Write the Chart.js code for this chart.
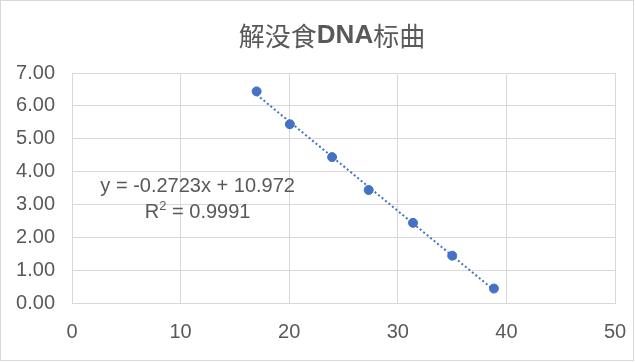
<!DOCTYPE html>
<html>
<head>
<meta charset="utf-8">
<script src="https://cdn.jsdelivr.net/npm/chart.js@4/dist/chart.umd.min.js"></script>
<style>
  html, body { margin: 0; padding: 0; background: #fff; }
  canvas { display: block; }
</style>
</head>
<body>
<canvas id="chart" width="635" height="362"></canvas>
<script>
const chartTitle = '解没食DNA标曲';
const xValues = [17.0, 20.06, 23.95, 27.32, 31.4, 35.01, 38.85];
const yValues = [6.44, 5.44, 4.44, 3.44, 2.44, 1.44, 0.44];
const slope = -0.2723;
const intercept = 10.972;
const rSquared = '0.9991';

const textColor = '#595959';
const gridColor = '#d9d9d9';
const blue = '#4472c4';
const tickFont = { family: '"Liberation Sans", Arial, sans-serif', size: 20 };

const points = xValues.map((x, i) => ({ x: x, y: yValues[i] }));
const xMin = Math.min(...xValues);
const xMax = Math.max(...xValues);
const trend = [xMin, xMax].map(x => ({ x: x, y: slope * x + intercept }));

// title with bold latin runs, border, trendline equation
const decor = {
  id: 'decor',
  beforeDraw(chart) {
    const ctx = chart.ctx;
    ctx.save();
    ctx.fillStyle = '#fff';
    ctx.fillRect(0, 0, chart.width, chart.height);
    ctx.restore();
  },
  afterDraw(chart) {
    const ctx = chart.ctx;
    ctx.save();
    ctx.strokeStyle = gridColor;
    ctx.lineWidth = 1;
    ctx.strokeRect(0.5, 0.5, 633, 360);

    // title
    const runs = chartTitle.match(/[A-Za-z0-9]+|[^A-Za-z0-9]+/g);
    const fontFor = r => /[A-Za-z0-9]/.test(r)
      ? 'bold 26px "Liberation Sans", Arial, sans-serif'
      : '26px "Noto Sans CJK SC", sans-serif';
    let total = 0;
    runs.forEach(r => { ctx.font = fontFor(r); total += ctx.measureText(r).width; });
    let tx = 332 - total / 2;
    ctx.fillStyle = textColor;
    ctx.textBaseline = 'middle';
    runs.forEach(r => {
      ctx.font = fontFor(r);
      ctx.fillText(r, tx, 36);
      tx += ctx.measureText(r).width;
    });

    // trendline equation
    const xs = chart.scales.x, ys = chart.scales.y;
    const cx = xs.getPixelForValue(11.57);
    const cy = ys.getPixelForValue(3.54);
    const sign = intercept >= 0 ? '+' : '-';
    const eq = 'y = ' + slope + 'x ' + sign + ' ' + Math.abs(intercept);
    ctx.font = '20px "Liberation Sans", Arial, sans-serif';
    ctx.textAlign = 'center';
    ctx.fillText(eq, cx, cy);

    const rest = ' = ' + rSquared;
    ctx.font = '20px "Liberation Sans", Arial, sans-serif';
    const wR = ctx.measureText('R').width;
    const wRest = ctx.measureText(rest).width;
    ctx.font = '13px "Liberation Sans", Arial, sans-serif';
    const w2 = ctx.measureText('2').width;
    let rx = cx - (wR + w2 + wRest) / 2;
    const ry = cy + 26;
    ctx.textAlign = 'left';
    ctx.font = '20px "Liberation Sans", Arial, sans-serif';
    ctx.fillText('R', rx, ry);
    rx += wR;
    ctx.font = '13px "Liberation Sans", Arial, sans-serif';
    ctx.fillText('2', rx, ry - 6);
    rx += w2;
    ctx.font = '20px "Liberation Sans", Arial, sans-serif';
    ctx.fillText(rest, rx, ry);
    ctx.restore();
  }
};

new Chart(document.getElementById('chart').getContext('2d'), {
  type: 'scatter',
  data: {
    datasets: [
      {
        label: 'data',
        data: points,
        backgroundColor: blue,
        borderColor: blue,
        pointRadius: 4.5,
        pointHoverRadius: 4.5,
      },
      {
        label: 'trend',
        data: trend,
        showLine: true,
        borderColor: blue,
        borderWidth: 2,
        borderDash: [2, 2.5],
        pointRadius: 0,
        fill: false,
      },
    ],
  },
  options: {
    responsive: false,
    animation: false,
    devicePixelRatio: 1,
    layout: { padding: { top: 73, right: 20, left: 0, bottom: 0 } },
    plugins: {
      legend: { display: false },
      title: { display: false },
      tooltip: { enabled: false },
    },
    scales: {
      x: {
        type: 'linear',
        min: 0,
        max: 50,
        ticks: { stepSize: 10, color: textColor, font: tickFont, padding: 17, maxRotation: 0 },
        grid: { color: gridColor, drawTicks: false },
        border: { color: gridColor },
        afterFit: s => { s.height = 59; s.paddingLeft = 0; s.paddingRight = 0; },
      },
      y: {
        min: 0,
        max: 7,
        ticks: { stepSize: 1, color: textColor, font: tickFont, padding: 17, callback: v => v.toFixed(2) },
        grid: { color: gridColor, drawTicks: false },
        border: { color: gridColor },
        afterFit: s => { s.width = 72; s.paddingTop = 0; s.paddingBottom = 0; },
      },
    },
  },
  plugins: [decor],
});
</script>
</body>
</html>
